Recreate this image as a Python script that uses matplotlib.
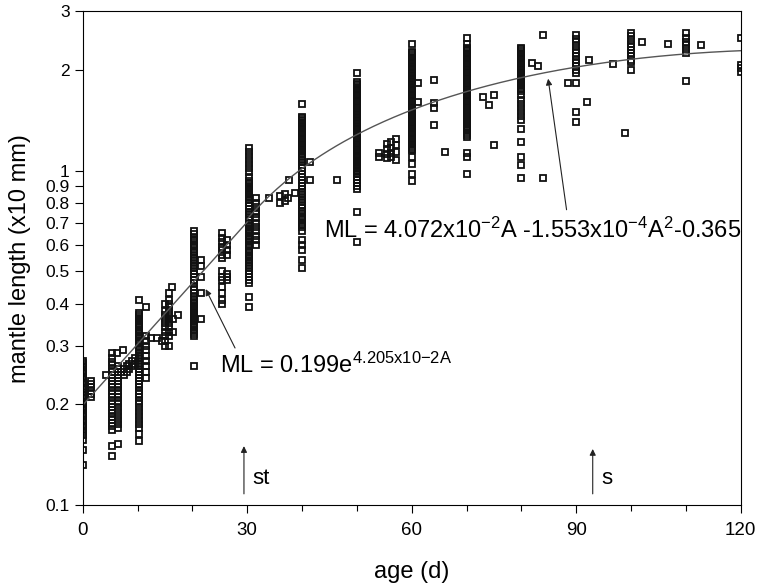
import numpy as np
import matplotlib
matplotlib.use("Agg")
import matplotlib.pyplot as plt
from matplotlib.ticker import FixedLocator, NullFormatter, NullLocator

plt.rcParams['font.family'] = ['Liberation Sans', 'DejaVu Sans']
plt.rcParams['mathtext.default'] = 'regular'

# dense sampling columns (age in days -> mantle length x10 mm)
ml_d0 = [0.270, 0.266, 0.262, 0.258, 0.254, 0.250, 0.246, 0.242, 0.238, 0.234,
         0.230, 0.226, 0.222, 0.218, 0.214, 0.210, 0.207, 0.204, 0.201, 0.198,
         0.195, 0.192, 0.189, 0.186, 0.183, 0.180, 0.177, 0.174, 0.171, 0.168,
         0.165, 0.162, 0.157, 0.146, 0.132]
ml_d1 = [0.235, 0.230, 0.225, 0.220, 0.215, 0.210]
ml_d5 = [0.285, 0.275, 0.268, 0.262, 0.256, 0.250, 0.245, 0.240, 0.235, 0.230,
         0.225, 0.220, 0.215, 0.210, 0.205, 0.200, 0.196, 0.192, 0.188, 0.184,
         0.180, 0.176, 0.172, 0.168, 0.150, 0.140]
ml_d6 = [0.260, 0.255, 0.250, 0.245, 0.240, 0.235, 0.230, 0.225, 0.220, 0.215,
         0.210, 0.205, 0.200, 0.195, 0.190, 0.185, 0.180, 0.175, 0.170, 0.152]
ml_d10 = [0.410, 0.375, 0.370, 0.365, 0.360, 0.355, 0.350, 0.345, 0.340, 0.335,
          0.330, 0.325, 0.320, 0.315, 0.310, 0.305, 0.300, 0.295, 0.290, 0.285,
          0.280, 0.275, 0.270, 0.265, 0.260, 0.255, 0.250, 0.245, 0.240, 0.235,
          0.230, 0.225, 0.220, 0.215, 0.210, 0.205, 0.200, 0.195, 0.190, 0.185,
          0.180, 0.175, 0.170, 0.163, 0.155]
ml_d11 = [0.390, 0.320, 0.310, 0.300, 0.290, 0.280, 0.270, 0.260, 0.250, 0.240]
ml_d15 = [0.400, 0.380, 0.370, 0.360, 0.350, 0.340, 0.330, 0.320, 0.310, 0.300]
ml_d16 = [0.430, 0.410, 0.400, 0.390, 0.380, 0.370, 0.360, 0.350, 0.340, 0.330,
          0.320, 0.300]
ml_d20 = [0.660, 0.645, 0.630, 0.620, 0.610, 0.600, 0.590, 0.580, 0.570, 0.560,
          0.550, 0.540, 0.530, 0.520, 0.510, 0.500, 0.490, 0.480, 0.470, 0.460,
          0.450, 0.440, 0.430, 0.420, 0.410, 0.405, 0.400, 0.395, 0.390, 0.385,
          0.380, 0.375, 0.370, 0.365, 0.360, 0.355, 0.350, 0.345, 0.340, 0.335,
          0.330, 0.325, 0.320, 0.260]
ml_d21 = [0.540, 0.520, 0.480, 0.430, 0.360]
ml_d25 = [0.650, 0.630, 0.610, 0.590, 0.580, 0.560, 0.550, 0.500, 0.480, 0.470,
          0.450, 0.430, 0.410, 0.400]
ml_d26 = [0.620, 0.600, 0.580, 0.560, 0.490, 0.480, 0.470]
ml_d30 = [1.170, 1.140, 1.110, 1.080, 1.050, 1.020, 0.990, 0.960, 0.930, 0.910,
          0.890, 0.870, 0.850, 0.830, 0.815, 0.800, 0.785, 0.770, 0.755, 0.740,
          0.725, 0.710, 0.700, 0.690, 0.680, 0.670, 0.660, 0.650, 0.640, 0.630,
          0.620, 0.610, 0.600, 0.590, 0.580, 0.570, 0.560, 0.555, 0.550, 0.540,
          0.530, 0.520, 0.510, 0.500, 0.490, 0.480, 0.470, 0.460, 0.420, 0.390,
          0.920, 0.900, 0.880, 0.860, 0.840, 0.820]
ml_d31 = [0.830, 0.800, 0.780, 0.760, 0.740, 0.720, 0.700, 0.680, 0.660, 0.640,
          0.620, 0.600]
ml_d40 = [1.580, 1.450, 1.420, 1.390, 1.360, 1.330, 1.300, 1.270, 1.240, 1.210,
          1.180, 1.150, 1.120, 1.100, 1.080, 1.060, 1.040, 1.020, 1.000, 0.980,
          0.960, 0.940, 0.920, 0.900, 0.880, 0.865, 0.850, 0.835, 0.820, 0.805,
          0.790, 0.775, 0.760, 0.745, 0.730, 0.720, 0.710, 0.700, 0.690, 0.680,
          0.660, 0.620, 0.600, 0.580, 0.540, 0.510,
          1.435, 1.405, 1.375, 1.345, 1.315, 1.285, 1.255, 1.225, 1.195, 1.165,
          1.135]
ml_d50 = [1.960, 1.840, 1.800, 1.760, 1.720, 1.680, 1.640, 1.600, 1.560, 1.520,
          1.480, 1.450, 1.420, 1.390, 1.360, 1.330, 1.300, 1.270, 1.240, 1.210,
          1.180, 1.150, 1.120, 1.100, 1.080, 1.060, 1.040, 1.020, 1.000, 0.980,
          0.960, 0.940, 0.920, 0.900, 0.880, 0.750, 0.610,
          1.820, 1.780, 1.740, 1.700, 1.660, 1.620, 1.580, 1.540, 1.500, 1.465,
          1.435, 1.405, 1.375, 1.345, 1.315, 1.285, 1.255, 1.225, 1.195, 1.165,
          1.135, 1.110, 1.090, 1.070, 1.050, 1.030, 1.010, 0.990]
ml_d60 = [2.400, 2.270, 2.220, 2.170, 2.120, 2.080, 2.040, 2.000, 1.960, 1.920,
          1.880, 1.840, 1.800, 1.760, 1.720, 1.680, 1.640, 1.600, 1.560, 1.520,
          1.480, 1.440, 1.400, 1.360, 1.330, 1.300, 1.270, 1.240, 1.210, 1.180,
          1.150, 1.100, 1.050, 0.980, 0.930,
          2.245, 2.195, 2.145, 2.100, 2.060, 2.020, 1.980, 1.940, 1.900, 1.860,
          1.820, 1.780, 1.740, 1.700, 1.660, 1.620, 1.580, 1.540, 1.500, 1.460,
          1.420, 1.380, 1.345, 1.315, 1.285, 1.255, 1.225, 1.195, 1.165]
ml_d70 = [2.500, 2.400, 2.330, 2.280, 2.230, 2.180, 2.130, 2.080, 2.030, 1.980,
          1.930, 1.880, 1.830, 1.780, 1.740, 1.700, 1.660, 1.620, 1.580, 1.540,
          1.500, 1.460, 1.420, 1.380, 1.340, 1.300, 1.260, 1.130, 1.100, 0.980,
          2.305, 2.255, 2.205, 2.155, 2.105, 2.055, 2.005, 1.955, 1.905, 1.855,
          1.805, 1.760, 1.720, 1.680, 1.640, 1.600, 1.560, 1.520, 1.480, 1.440,
          1.400, 1.360, 1.320, 1.280]
ml_d80 = [2.330, 2.280, 2.230, 2.180, 2.130, 2.080, 2.030, 1.980, 1.930, 1.880,
          1.830, 1.780, 1.730, 1.680, 1.630, 1.580, 1.540, 1.500, 1.460, 1.420,
          1.330, 1.220, 1.100, 1.040, 0.950,
          2.305, 2.255, 2.205, 2.155, 2.105, 2.055, 2.005, 1.955, 1.905, 1.855,
          1.805, 1.755]
ml_d90 = [2.550, 2.480, 2.420, 2.360, 2.300, 2.250, 2.200, 2.150, 2.100, 2.050,
          2.000, 1.960, 1.830, 1.500, 1.400]
ml_d100 = [2.580, 2.520, 2.460, 2.400, 2.350, 2.300, 2.250, 2.200, 2.150, 2.110,
           2.000]
ml_d110 = [2.580, 2.500, 2.430, 2.370, 2.310, 2.250, 1.850]
ml_d120 = [2.500, 2.070, 2.030, 1.980]

column_ages = [0, 1.5, 5.3, 6.4, 10.2, 11.5, 15, 15.8, 20.2, 21.5, 25.4, 26.3,
               30.3, 31.6, 40, 50, 60, 70, 80, 90, 100, 110, 120]
column_ml = [ml_d0, ml_d1, ml_d5, ml_d6, ml_d10, ml_d11, ml_d15, ml_d16, ml_d20,
             ml_d21, ml_d25, ml_d26, ml_d30, ml_d31, ml_d40, ml_d50, ml_d60,
             ml_d70, ml_d80, ml_d90, ml_d100, ml_d110, ml_d120]

# scattered single points
loose_age = [4.2, 6.2, 7.3, 7.0, 7.5, 7.5, 8.0, 8.0, 8.5, 8.5, 9.0, 9.0, 9.5, 9.5,
             12.5, 13.5, 14.5, 16.3, 16.5, 16.5, 17.3,
             34, 36, 36, 36.8, 36.8, 37.4, 37.7, 38.7, 41.4, 41.4, 46.3,
             54, 54, 55.5, 55.5, 55.5, 55.5, 56.3, 56.3, 56.3, 56.3,
             57.2, 57.2, 57.2, 57.2,
             61.2, 61.2, 64, 64, 64, 64, 66,
             73, 75, 74, 75, 82, 83, 84, 84,
             88.5, 92, 92.3, 96.7, 98.8, 102, 106.7, 112.7]
loose_ml = [0.245, 0.285, 0.290, 0.250, 0.245, 0.255, 0.250, 0.260, 0.255, 0.265,
            0.260, 0.270, 0.265, 0.275,
            0.315, 0.315, 0.310, 0.450, 0.360, 0.330, 0.370,
            0.830, 0.840, 0.800, 0.850, 0.810, 0.830, 0.940, 0.860, 1.060, 0.940, 0.940,
            1.130, 1.100, 1.200, 1.160, 1.120, 1.090, 1.220, 1.170, 1.130, 1.100,
            1.240, 1.190, 1.140, 1.080,
            1.830, 1.600, 1.870, 1.590, 1.540, 1.370, 1.140,
            1.660, 1.680, 1.570, 1.190, 2.100, 2.050, 2.550, 0.950,
            1.830, 1.610, 2.150, 2.080, 1.300, 2.430, 2.400, 2.370]

# fitted curves (coefficients from the figure)
exp_a, exp_b = 0.199, 4.205e-2
quad_a, quad_b, quad_c = 4.072e-2, -1.553e-4, -0.365

ages = np.concatenate([np.full(len(v), a) for a, v in zip(column_ages, column_ml)] + [loose_age])
mls = np.concatenate([np.array(v) for v in column_ml] + [loose_ml])

fig = plt.figure(figsize=(7.59, 5.88), dpi=100)
ax = fig.add_axes([0.109, 0.141, 0.867, 0.840])

ax.plot(ages, mls, linestyle='none', marker='s', markersize=5.0,
        markerfacecolor='none', markeredgecolor='#111111', markeredgewidth=1.3)

t1 = np.linspace(0, 30, 100)
ax.plot(t1, exp_a * np.exp(exp_b * t1), color='#555555', lw=1.0)
t2 = np.linspace(30, 120, 200)
ax.plot(t2, quad_a * t2 + quad_b * t2 ** 2 + quad_c, color='#555555', lw=1.0)

ax.set_yscale('log')
ax.set_xlim(0, 120)
ax.set_ylim(0.1, 3)

yt = [0.1, 0.2, 0.3, 0.4, 0.5, 0.6, 0.7, 0.8, 0.9, 1, 2, 3]
ax.yaxis.set_major_locator(FixedLocator(yt))
ax.yaxis.set_minor_locator(NullLocator())
ax.yaxis.set_minor_formatter(NullFormatter())
ax.set_yticklabels(['0.1', '0.2', '0.3', '0.4', '0.5', '0.6', '0.7', '0.8', '0.9', '1', '2', '3'])
ax.set_xticks([0, 30, 60, 90, 120])
ax.xaxis.set_minor_locator(FixedLocator([10, 20, 40, 50, 70, 80, 100, 110]))

ax.tick_params(axis='y', which='major', labelsize=12.5, direction='out', length=6, width=0.8)
ax.tick_params(axis='x', which='major', labelsize=13.5, direction='out', length=6, width=0.8, pad=6)
ax.tick_params(axis='x', which='minor', direction='out', length=4, width=0.8)
for s in ax.spines.values():
    s.set_linewidth(0.8)

ax.set_xlabel('age (d)', fontsize=17, labelpad=16)
ax.set_ylabel('mantle length (x10 mm)', fontsize=17, labelpad=10)

ax.annotate('', xy=(22.2, 0.45), xytext=(28, 0.29),
            arrowprops=dict(arrowstyle='-|>', color='#222222', lw=0.8, mutation_scale=9))
ax.text(25, 0.262, 'ML = 0.199e$^{4.205x10{-}2A}$', fontsize=17, va='center', ha='left')

ax.annotate('', xy=(84.8, 1.92), xytext=(88.3, 0.75),
            arrowprops=dict(arrowstyle='-|>', color='#222222', lw=0.8, mutation_scale=9))
ax.text(44, 0.665, 'ML = 4.072x10$^{-2}$A -1.553x10$^{-4}$A$^{2}$-0.365',
        fontsize=17, va='center', ha='left')

ax.annotate('', xy=(29.4, 0.153), xytext=(29.4, 0.106),
            arrowprops=dict(arrowstyle='-|>', color='#222222', lw=0.8, mutation_scale=9))
ax.text(31, 0.12, 'st', fontsize=16, va='center', ha='left')
ax.annotate('', xy=(93, 0.15), xytext=(93, 0.106),
            arrowprops=dict(arrowstyle='-|>', color='#222222', lw=0.8, mutation_scale=9))
ax.text(94.6, 0.12, 's', fontsize=16, va='center', ha='left')

fig.savefig('out.png', dpi=100)
